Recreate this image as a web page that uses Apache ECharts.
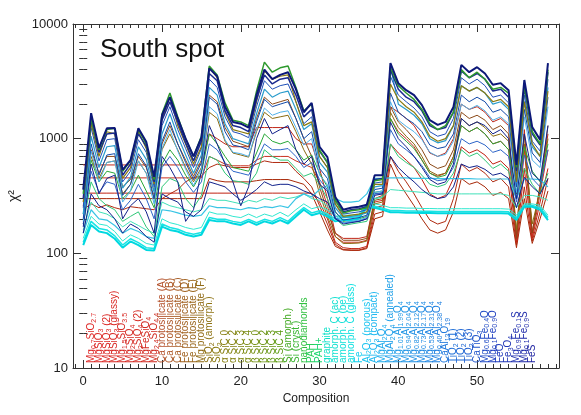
<!DOCTYPE html>
<html>
<head>
<meta charset="utf-8">
<script src="https://cdn.jsdelivr.net/npm/echarts@6/dist/echarts.min.js"></script>
<style>
html, body { margin: 0; padding: 0; background: #fff; }
#chart { width: 581px; height: 415px; }
</style>
</head>
<body>
<div id="chart"></div>
<script>
// composition names, one per x position (subscripts written as _{..})
const compositions = [
  'silicate', 'Mg_{0.7}SiO_{2.7}', 'MgSiO_{3}', 'MgSiO_{3} (2)', 'MgSiO_{3} (glassy)',
  'Mg_{1.5}SiO_{3.5}', 'Mg_{2}SiO_{4}', 'Mg_{2}SiO_{4} (2)', 'MgFeSiO_{4}', 'Mg_{2.4}SiO_{4.4}',
  'Ca protosilicate (A)', 'Ca protosilicate (B)', 'Ca protosilicate (C)',
  'Fe protosilicate (D)', 'Fe protosilicate (E)', 'Mg protosilicate (F)',
  'SiO_{2} (amorph.)', 'SiO_{2}',
  'α SiC 0', 'α SiC 2', 'α SiC 3', 'α SiC 4', 'β SiC 0', 'β SiC 2', 'β SiC 3', 'β SiC 4',
  'Si (amorph.)', 'Si (cryst.)', 'nanodiamonds', 'PAH', 'PAH+', 'graphite',
  'amorph. C (ac)', 'amorph. C (be)', 'amorph. C (glass)', 'Fe',
  'Al_{2}O_{3} (porous)', 'Al_{2}O_{3} (compact)', 'MgAl_{2}O_{4}', 'MgAl_{2}O_{4} (annealed)',
  'Mg_{1.01}Al_{1.99}O_{4}', 'Mg_{0.94}Al_{2.04}O_{4}', 'Mg_{0.82}Al_{2.12}O_{4}',
  'Mg_{0.73}Al_{2.17}O_{4}', 'Mg_{0.53}Al_{2.31}O_{4}', 'Mg_{0.40}Al_{2.38}O_{4}',
  'CaAl_{12}O_{19}', 'TiO_{2} (1)', 'TiO_{2} (2)', 'TiO_{2} (3)', 'CaTiO_{3}',
  'Mg_{0.6}Fe_{0.4}O', 'Mg_{0.1}Fe_{0.9}O', 'FeO', 'Fe_{3}O_{4}',
  'Mg_{0.9}Fe_{0.1}S', 'Mg_{0.1}Fe_{0.9}S', 'FeS', 'SiS_{2}'
];
const xTicks = [0, 10, 20, 30, 40, 50];
const yTicks = [10, 100, 1000, 10000];

// chi^2 curves, one value per composition index 0..59
const navyTop = [360,1670,830,1230,1240,535,650,1230,940,465, 1600,2300,1500,1000,700,1020,4100,3500,1900,1400,
  1350,1250,2400,4000,3300,3600,3800,2700,1700,2050, 850,690,310,240,250,255,265,480,480,4560,
  3050,2650,2400,1960,1450,1320,1400,1890,4400,3800, 4200,3700,2950,3050,2650,590,3250,1260,980,4560];
const greenTop = [330,1500,800,1200,1230,520,640,1200,900,440, 1650,2500,1550,1000,700,1050,4300,3600,2050,1450,
  1400,1300,2600,4650,3800,4150,4300,2800,1750,2000, 800,620,290,225,235,240,250,430,440,4200,
  2900,2500,2200,1800,1350,1200,1300,1700,4000,3400, 3800,3300,2700,2800,2500,560,2900,1150,900,4000];
const darkBlue = [300,1500,760,1100,1120,480,600,1100,860,420, 1450,2100,1400,920,640,950,3700,3200,1750,1300,
  1250,1150,2200,3600,3000,3300,3400,2400,1550,1800, 780,620,290,230,240,245,255,440,450,4000,
  2700,2300,2100,1750,1300,1200,1250,1700,3900,3400, 3700,3300,2600,2700,2300,520,2800,1100,880,3800];
const oliveHigh = [280,1350,700,1150,1100,450,560,1150,820,400, 1500,2300,1300,900,600,850,4200,3400,1700,1200,
  1150,1100,2100,3900,3300,3500,3600,2100,1300,1400, 700,560,270,210,215,220,230,400,400,3000,
  2200,1900,1700,1400,1050,950,1000,1300,2900,2600, 2800,2500,2100,2200,1900,420,2100,900,700,2600];
const blueHigh = [250,1250,640,980,1000,420,520,980,760,380, 1300,1900,1200,820,560,820,3300,2800,1550,1150,
  1100,1020,1900,3200,2700,2900,3000,2100,1350,1550, 700,560,270,220,225,230,240,410,420,3500,
  2400,2100,1850,1550,1150,1050,1100,1500,3400,3000, 3300,2900,2300,2400,2050,470,2400,950,780,3300];
const tealHigh = [220,1050,560,850,870,370,460,850,660,340, 1100,1650,1050,720,500,720,2800,2400,1350,1000,
  950,900,1650,2700,2300,2500,2600,1800,1200,1350, 620,510,250,205,210,215,225,380,390,4300,
  2000,1800,1600,1350,1000,920,960,1300,2900,2600, 2800,2500,2000,2100,1800,430,2100,850,700,2800];
const blueMid = [200,900,480,720,740,320,400,740,580,300, 950,1400,900,620,440,620,2300,2000,1150,880,
  850,800,1400,2200,1900,2000,2100,1500,1000,1150, 550,450,230,195,200,205,215,360,370,2500,
  1700,1500,1350,1150,880,820,850,1100,2400,2100, 2300,2100,1700,1800,1550,380,1800,750,620,2300];
const skyMid = [190,780,420,620,640,280,350,640,500,270, 820,1200,780,540,390,540,1900,1650,980,760,
  740,700,1200,1850,1600,1700,1750,1250,880,1000, 480,400,215,185,190,195,205,340,350,2100,
  1450,1280,1150,980,760,700,730,950,2000,1800, 1950,1750,1450,1550,1350,340,1550,650,560,1900];
const navyZigzag = [170,600,330,450,480,200,260,300,230,150, 700,560,420,190,240,520,1300,900,600,420,
  260,380,1000,1500,1100,1200,1300,800,600,700, 400,350,200,180,185,190,200,320,330,1400,
  1000,850,700,560,440,400,420,600,1500,1300, 1400,1300,1100,1200,1000,300,1100,500,430,1300];
const seaGreen = [180,420,300,260,240,190,210,230,170,140, 380,450,420,300,250,320,700,650,500,430,
  420,400,500,800,700,650,650,550,470,500, 400,300,200,175,180,185,190,300,310,900,
  700,620,560,480,400,380,400,500,800,700, 750,650,550,600,520,300,550,400,330,500];
const greenMid = [220,650,420,520,500,300,350,480,350,250, 600,800,650,480,380,500,1100,900,700,560,
  540,520,750,1100,950,900,950,800,650,720, 500,380,230,190,195,200,210,340,350,1500,
  1100,950,820,650,500,460,480,650,1300,1150, 1250,1100,900,950,800,330,850,520,420,900];
const redHigh = [590,590,590,590,590,590,590,590,590,590, 590,590,590,590,590,590,1100,1000,900,850,
  850,850,1250,1250,1250,1250,1250,1000,900,900, 550,300,150,135,135,135,140,300,320,1900,
  1700,1500,1300,1000,750,700,750,1000,2000,1800, 1900,1700,1400,1500,1300,140,1200,150,400,1100];
const redMid = [455,455,455,455,455,455,455,455,455,455, 455,455,455,455,455,455,700,650,600,580,
  580,580,650,700,700,700,700,640,600,560, 420,260,140,125,125,125,130,280,290,1500,
  1150,1000,850,650,500,470,500,700,1300,1150, 1250,1100,900,950,800,130,800,140,330,800];
const redLow = [335,335,335,335,335,335,335,335,335,335, 335,335,335,335,335,335,335,335,335,335,
  335,335,335,335,335,335,335,335,335,335, 280,200,125,112,110,110,115,250,260,900,
  750,650,560,440,330,300,320,450,850,750, 800,720,600,640,550,125,550,135,280,550];
const brownMid = [400,800,500,700,700,380,440,700,560,350, 900,1300,900,650,470,650,2400,2100,1250,950,
  900,850,1500,2300,2000,2100,2200,1500,1000,700, 380,230,150,130,130,130,135,290,300,1900,
  1400,1200,1000,800,600,550,580,800,1700,1500, 1600,1450,1200,1300,1100,135,1100,150,380,1300];
const redRising = [240,270,250,265,250,240,255,250,245,240, 300,330,360,420,460,470,560,600,580,560,
  560,560,600,640,620,620,620,520,450,380, 260,180,120,108,107,107,112,220,230,700,
  520,420,330,250,195,180,190,300,600,520, 560,500,420,450,380,118,380,128,230,450];
const redBottom = [300,300,300,300,300,300,300,300,300,300, 300,300,300,300,300,300,450,430,420,420,
  420,420,430,440,440,440,440,420,400,330, 230,160,115,107,106,106,110,200,210,600,
  420,330,260,200,160,150,160,230,450,400, 420,380,320,340,300,112,300,122,200,350];
const oliveMid = [260,700,450,620,640,330,400,640,500,300, 800,1100,800,560,420,560,1700,1500,950,750,
  720,690,1150,1700,1500,1550,1600,1150,800,600, 330,210,140,122,122,123,128,270,280,1700,
  1250,1050,900,700,520,480,500,700,1500,1300, 1400,1250,1050,1100,950,160,900,180,350,1000];
const blueLow = [180,520,340,420,400,240,290,400,300,200, 560,700,560,420,340,420,900,800,620,520,
  500,480,650,900,800,800,820,700,560,620, 440,360,205,185,188,192,205,330,340,1200,
  900,800,700,580,460,430,440,560,1000,900, 950,880,760,800,700,280,720,450,380,800];
const navyLow = [150,330,260,240,200,150,180,165,140,125, 330,300,280,230,210,240,420,400,380,330,
  290,320,360,420,390,400,400,380,350,330, 300,280,200,185,188,190,200,330,330,700,
  560,480,420,360,320,300,310,380,600,560, 580,540,480,500,450,250,460,380,330,450];
const cyanA = [118,177,155,150,134,112,127,118,107,106, 171,160,155,145,140,145,195,190,190,182,
  177,190,177,190,182,195,182,210,240,215, 225,210,190,195,195,200,255,250,240,228,
  228,226,226,225,225,224,224,224,224,224, 224,224,224,224,222,195,255,255,240,195];
const cyanB = [125,190,165,160,142,118,134,124,112,110, 180,168,162,152,147,152,205,198,198,190,
  185,198,185,198,190,205,190,220,250,225, 235,220,200,205,205,210,262,258,248,236,
  236,234,234,233,233,232,232,232,232,232, 232,232,232,232,230,205,262,262,250,205];
const cyanC = [135,210,180,175,155,128,145,135,122,118, 200,185,178,168,162,168,230,220,220,210,
  205,220,205,220,210,228,210,240,270,245, 255,240,210,215,215,220,275,270,262,250,
  250,248,248,246,246,245,245,245,245,245, 245,245,245,245,243,215,270,270,262,215];
const cyanFlat = [150,240,200,195,175,150,165,155,140,135, 240,235,225,215,210,215,260,250,250,245,
  240,250,245,255,250,260,250,300,330,310, 360,390,300,280,280,285,330,450,450,455,
  455,455,450,450,450,448,448,448,448,448, 445,445,445,445,445,300,445,445,440,380];
const turquoise = [160,280,230,220,200,170,190,175,160,150, 280,260,250,240,230,240,300,290,290,280,
  270,290,280,300,290,310,300,310,330,300, 290,260,210,210,210,215,260,300,310,360,
  355,350,345,340,335,330,330,330,330,330, 330,330,330,330,320,250,320,320,310,290];

const curves = [
  { data: redBottom, color: '#a82808', width: 1 },
  { data: redRising, color: '#b02a10', width: 1 },
  { data: redLow, color: '#c02010', width: 1 },
  { data: redMid, color: '#c83020', width: 1 },
  { data: redHigh, color: '#c0281a', width: 1 },
  { data: brownMid, color: '#8c4a18', width: 1 },
  { data: oliveMid, color: '#8a6a10', width: 1 },
  { data: seaGreen, color: '#30c878', width: 1 },
  { data: greenMid, color: '#28a838', width: 1 },
  { data: turquoise, color: '#40e0b8', width: 1 },
  { data: cyanFlat, color: '#38c4e4', width: 1.2 },
  { data: cyanC, color: '#30e8d0', width: 1 },
  { data: cyanB, color: '#18e4e4', width: 1.5 },
  { data: cyanA, color: '#00d8e0', width: 2 },
  { data: navyLow, color: '#10208a', width: 1 },
  { data: blueLow, color: '#2c64c8', width: 1 },
  { data: navyZigzag, color: '#13228a', width: 1 },
  { data: skyMid, color: '#50b0e8', width: 1 },
  { data: blueMid, color: '#1048a8', width: 1 },
  { data: tealHigh, color: '#2a9ccc', width: 1.2 },
  { data: blueHigh, color: '#2050b8', width: 1 },
  { data: oliveHigh, color: '#8a7a10', width: 1.2 },
  { data: darkBlue, color: '#1a2a90', width: 1.5 },
  { data: greenTop, color: '#2e9a2e', width: 1.5 },
  { data: navyTop, color: '#0c1878', width: 2 }
];

const FONT = '"Liberation Sans", Arial, sans-serif';
const xMin = -1.3, xMax = 60.4;

// label colours run red -> brown -> green -> cyan -> blue along the list
const labelStops = [[0,'#e02828'],[9,'#d02a20'],[10,'#b4502a'],[15,'#926c18'],[17,'#8a7a10'],
  [21,'#7a8a10'],[25,'#5a9a10'],[26,'#40a820'],[28,'#30c040'],[30,'#20d870'],[31,'#10e0c8'],
  [34,'#10e0e0'],[35,'#18d0f0'],[37,'#20b8f0'],[39,'#20a0e8'],[45,'#2080e0'],[49,'#2060d0'],
  [52,'#2040c0'],[55,'#2030b0'],[58,'#1a1a98']];

function hexToRgb(h) {
  return [1, 3, 5].map(k => parseInt(h.slice(k, k + 2), 16));
}
function labelColor(i) {
  for (let k = 0; k < labelStops.length - 1; k++) {
    const a = labelStops[k], b = labelStops[k + 1];
    if (i >= a[0] && i <= b[0]) {
      const t = (i - a[0]) / (b[0] - a[0]);
      const ca = hexToRgb(a[1]), cb = hexToRgb(b[1]);
      const c = ca.map((v, j) => Math.round(v + (cb[j] - v) * t));
      return 'rgb(' + c.join(',') + ')';
    }
  }
  return labelStops[labelStops.length - 1][1];
}

function toRich(s) {
  return s.split(/(_\{[^}]*\})/).filter(p => p.length).map(p =>
    p.startsWith('_{') ? '{s|' + p.slice(2, -1) + '}' : '{n|' + p + '}'
  ).join('');
}

const labelPositions = compositions.map((c, i) => i);
const minorX = [];
for (let v = -1; v <= 60; v++) minorX.push(v);
const minorY = [];
[10, 100, 1000].forEach(d => { for (let m = 2; m <= 9; m++) minorY.push(Math.log10(m * d)); });

const axisColor = '#333';
const baseX = {
  type: 'value', min: xMin, max: xMax,
  splitLine: { show: false },
  axisLine: { onZero: false, lineStyle: { color: axisColor } }
};

const option = {
  animation: false,
  backgroundColor: '#fff',
  grid: { left: 73, right: 22, top: 24, bottom: 47, containLabel: false, outerBoundsMode: 'none' },
  graphic: [{
    type: 'text', x: 100, y: 50,
    style: { text: 'South spot', font: '26px ' + FONT, fill: '#111', verticalAlign: 'middle' }
  }],
  xAxis: [
    Object.assign({}, baseX, {
      position: 'bottom',
      name: 'Composition', nameLocation: 'middle', nameGap: 22,
      nameTextStyle: { fontSize: 12, fontFamily: FONT, color: '#222' },
      axisTick: { inside: true, length: 8, customValues: xTicks, lineStyle: { color: axisColor } },
      axisLabel: { customValues: xTicks, margin: 7, fontSize: 13, fontFamily: FONT, color: '#222' }
    }),
    Object.assign({}, baseX, {
      position: 'top',
      axisTick: { inside: true, length: 8, customValues: xTicks, lineStyle: { color: axisColor } },
      axisLabel: { show: false }
    }),
    Object.assign({}, baseX, {
      position: 'bottom', axisLine: { show: false, onZero: false },
      axisTick: { inside: true, length: 4, customValues: minorX, lineStyle: { color: axisColor } },
      axisLabel: { show: false }
    }),
    Object.assign({}, baseX, {
      position: 'top', axisLine: { show: false, onZero: false },
      axisTick: { inside: true, length: 4, customValues: minorX, lineStyle: { color: axisColor } },
      axisLabel: { show: false }
    }),
    Object.assign({}, baseX, {
      position: 'bottom', axisLine: { show: false, onZero: false },
      axisTick: { show: false },
      axisLabel: {
        customValues: labelPositions, inside: true, rotate: 90, margin: 5,
        hideOverlap: false,
        color: v => labelColor(Math.round(v)),
        formatter: v => toRich(compositions[Math.round(v)] || ''),
        rich: {
          n: { fontSize: 10, fontFamily: FONT, lineHeight: 12, verticalAlign: 'middle' },
          s: { fontSize: 7, fontFamily: FONT, lineHeight: 7, verticalAlign: 'bottom' }
        }
      }
    })
  ],
  yAxis: [
    {
      type: 'log', logBase: 10, min: 10, max: 10000, position: 'left',
      name: 'χ²', nameLocation: 'middle', nameGap: 46, nameRotate: 90,
      nameTextStyle: { fontSize: 14, fontFamily: FONT, color: '#222' },
      axisLine: { show: true, onZero: false, lineStyle: { color: axisColor } },
      axisTick: { inside: true, length: 8, lineStyle: { color: axisColor } },
      axisLabel: { margin: 5, fontSize: 13, fontFamily: FONT, color: '#222',
        formatter: v => String(Math.round(v)) },
      splitLine: { show: false }
    },
    {
      type: 'log', logBase: 10, min: 10, max: 10000, position: 'right',
      axisLine: { show: true, onZero: false, lineStyle: { color: axisColor } },
      axisTick: { inside: true, length: 8, lineStyle: { color: axisColor } },
      axisLabel: { show: false },
      splitLine: { show: false }
    },
    {
      type: 'value', min: 1, max: 4, position: 'left',
      axisLine: { show: false },
      axisTick: { inside: true, length: 4, customValues: minorY, lineStyle: { color: axisColor } },
      axisLabel: { show: false }, splitLine: { show: false }
    },
    {
      type: 'value', min: 1, max: 4, position: 'right',
      axisLine: { show: false },
      axisTick: { inside: true, length: 4, customValues: minorY, lineStyle: { color: axisColor } },
      axisLabel: { show: false }, splitLine: { show: false }
    }
  ],
  series: curves.map(c => ({
    type: 'line',
    xAxisIndex: 0, yAxisIndex: 0,
    showSymbol: false, symbol: 'none',
    silent: true,
    lineStyle: { color: c.color, width: c.width },
    data: c.data.map((v, i) => [i, v])
  }))
};

const chart = echarts.init(document.getElementById('chart'), null, { renderer: 'canvas' });
chart.setOption(option);
</script>
</body>
</html>
